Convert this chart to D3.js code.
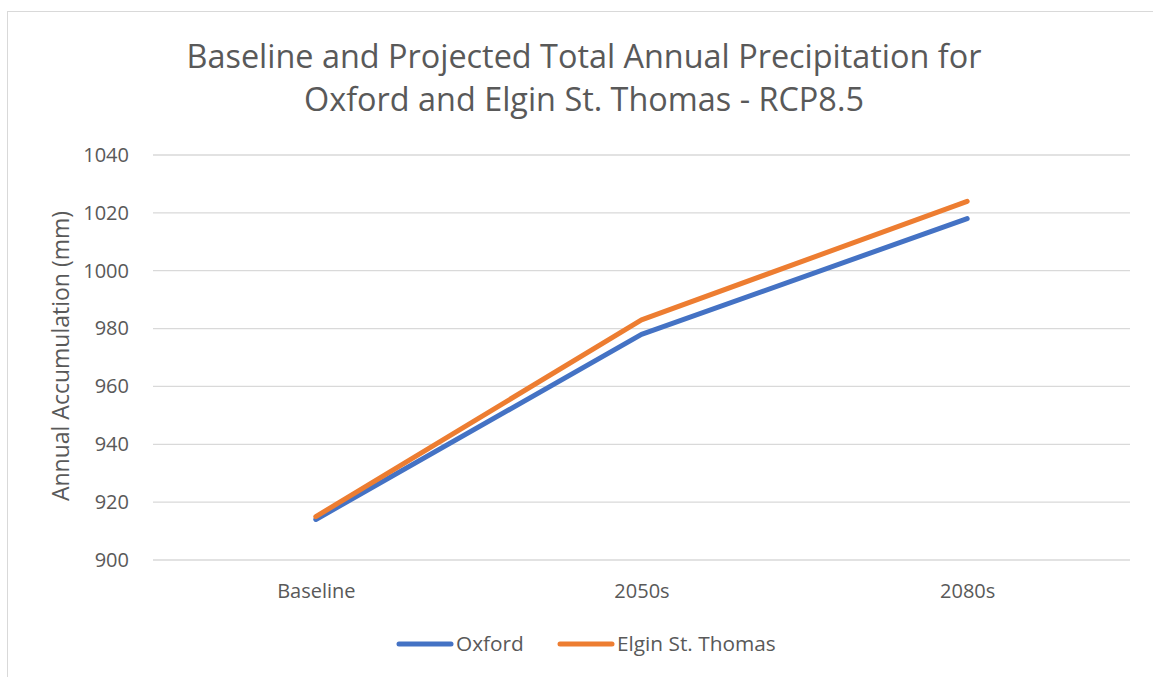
<!DOCTYPE html>
<html>
<head>
<meta charset="utf-8">
<script src="https://cdn.jsdelivr.net/npm/d3@7"></script>
<style>
  body { margin: 0; background: #fff; }
  text { font-family: "Open Sans", sans-serif; fill: #595959; }
</style>
</head>
<body>
<div id="chart"></div>
<script>
var categories = ['Baseline', '2050s', '2080s'];
var oxford = [914, 978, 1018];
var elgin = [915, 983, 1024];
var seriesNames = ['Oxford', 'Elgin St. Thomas'];
var seriesColors = ['#4472C4', '#ED7D31'];
var yTicks = [900, 920, 940, 960, 980, 1000, 1020, 1040];

var width = 1153, height = 677;
var margin = {top: 155, right: 23, bottom: 117, left: 153};

var svg = d3.select('#chart').append('svg')
	.attr('width', width).attr('height', height);

// chart border
svg.append('rect')
	.attr('x', 7.5).attr('y', 11.5)
	.attr('width', width + 10).attr('height', height + 10)
	.attr('fill', 'none').attr('stroke', '#d9d9d9');

var W = width - margin.left - margin.right;
var H = height - margin.top - margin.bottom;

var g = svg.append('g').attr('transform', 'translate(' + [margin.left, margin.top] + ')');

var x = d3.scalePoint().domain(categories).range([0, W]).padding(0.5);
var y = d3.scaleLinear().domain([900, 1040]).range([H, 0]);

// gridlines
g.selectAll('line.grid')
	.data(yTicks)
	.enter().append('line')
	.attr('class', 'grid')
	.attr('x1', 0).attr('x2', W)
	.attr('y1', function(d){ return y(d); })
	.attr('y2', function(d){ return y(d); })
	.attr('stroke', '#d9d9d9').attr('stroke-width', 1.3);

// y axis labels
var yAxis = g.append('g').call(d3.axisLeft(y).tickValues(yTicks).tickFormat(d3.format('d')).tickSize(0).tickPadding(24));
yAxis.select('.domain').remove();
yAxis.selectAll('text').style('font-size', '20px').attr('fill', '#595959');

// x axis labels
var xAxis = g.append('g').attr('transform', 'translate(0,' + H + ')')
	.call(d3.axisBottom(x).tickSize(0).tickPadding(24));
xAxis.select('.domain').remove();
xAxis.selectAll('text').style('font-size', '20px').attr('fill', '#595959');

// lines
var line = d3.line()
	.x(function(d, i){ return x(categories[i]); })
	.y(function(d){ return y(d); });

[oxford, elgin].forEach(function(s, i){
	g.append('path')
		.datum(s)
		.attr('d', line)
		.attr('fill', 'none')
		.attr('stroke', seriesColors[i])
		.attr('stroke-width', 5)
		.attr('stroke-linecap', 'round')
		.attr('stroke-linejoin', 'round');
});

// title
var title = svg.append('text')
	.attr('text-anchor', 'middle')
	.style('font-size', '32.4px');
title.append('tspan').attr('x', 584).attr('y', 68).text('Baseline and Projected Total Annual Precipitation for');
title.append('tspan').attr('x', 584).attr('y', 111).text('Oxford and Elgin St. Thomas - RCP8.5');

// y axis title
svg.append('text')
	.attr('transform', 'translate(69,' + 356 + ') rotate(-90)')
	.attr('text-anchor', 'middle')
	.style('font-size', '23px')
	.text('Annual Accumulation (mm)');

// legend
var legendX = [397, 558];
var leg = svg.selectAll('g.legend')
	.data(seriesNames)
	.enter().append('g')
	.attr('class', 'legend')
	.attr('transform', function(d, i){ return 'translate(' + [legendX[i], 644] + ')'; });

leg.append('line')
	.attr('x1', 2).attr('x2', 54)
	.attr('stroke', function(d, i){ return seriesColors[i]; })
	.attr('stroke-width', 5)
	.attr('stroke-linecap', 'round');

leg.append('text')
	.attr('x', 59).attr('dy', '0.35em')
	.style('font-size', '20.8px')
	.text(function(d){ return d; });
</script>
</body>
</html>
